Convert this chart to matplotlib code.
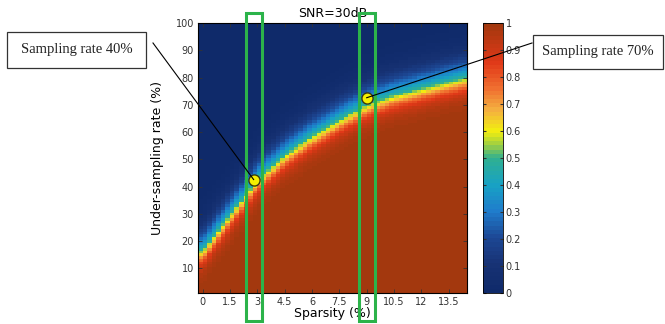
import numpy as np
import matplotlib.pyplot as plt
from matplotlib.colors import LinearSegmentedColormap
from matplotlib.patches import Rectangle
from matplotlib.lines import Line2D

# boundary of the phase transition (50% level)
sparsity_pts = [0, 1.5, 3, 4.5, 6, 7.5, 9, 10.5, 12, 13.5, 14.5]
boundary_rate = [16.5, 29.5, 42.5, 51.5, 58.5, 64.5, 70, 73.5, 76, 78.5, 80]
width_above = 4.5   # slow fade into blue
width_below = 2.8   # quicker rise into red

x_ticks = [0, 1.5, 3, 4.5, 6, 7.5, 9, 10.5, 12, 13.5]
y_ticks = [10, 20, 30, 40, 50, 60, 70, 80, 90, 100]
cb_ticks = [0, 0.1, 0.2, 0.3, 0.4, 0.5, 0.6, 0.7, 0.8, 0.9, 1]
cb_labels = ['0', '0.1', '0.2', '0.3', '0.4', '0.5', '0.6', '0.7', '0.8', '0.9', '1']

# highlighted columns and sample points
band_centers = [2.8, 9.03]
points_x = [2.8, 9.0]
points_y = [42.6, 72.6]
notes = ['Sampling rate 40%', 'Sampling rate 70%']

# colour stops of the colorbar in the picture
cmap_pos = [0.0, 0.1, 0.2, 0.3, 0.4, 0.5, 0.55, 0.6, 0.68, 0.76, 0.86, 1.0]
cmap_col = ['#0f2a6a', '#173274', '#1d4794', '#1f7ccc', '#18a2c4', '#30b090',
            '#a0d040', '#f2ee10', '#f4b040', '#f07030', '#e03818', '#a3380e']
cmap = LinearSegmentedColormap.from_list('ref', list(zip(cmap_pos, cmap_col)), N=64)

# grid of recovery probability
xs = np.arange(-0.125, 14.5, 0.25)
ys = np.arange(1, 101, 1.0)
bnd = np.interp(xs, sparsity_pts, boundary_rate)
d = bnd[None, :] - ys[:, None]
w = np.where(d < 0, width_above, width_below)
prob = 1.0 / (1.0 + np.exp(-d / w))

W, H = 665, 324
fig = plt.figure(figsize=(6.65, 3.24), dpi=100)

ax = fig.add_axes([198 / W, 1 - 293 / H, 269 / W, 270 / H])
im = ax.imshow(prob, origin='lower', aspect='auto', interpolation='nearest',
               cmap=cmap, vmin=0, vmax=1,
               extent=[-0.25, 14.5, 0.5, 100.5])
ax.set_xlim(-0.25, 14.5)
ax.set_ylim(1, 100)
ax.set_xticks(x_ticks)
ax.set_xticklabels([('%g' % t) for t in x_ticks])
ax.set_yticks(y_ticks)
ax.tick_params(direction='in', top=True, right=True, length=3, width=0.6,
               labelsize=7, pad=3, colors='#333333')
ax.set_title('SNR=30dB', fontsize=9, pad=4)
ax.set_xlabel('Sparsity (%)', fontsize=9, labelpad=0)
ax.set_ylabel('Under-sampling rate (%)', fontsize=9, labelpad=8)

for c in band_centers:
    ax.add_patch(Rectangle((c - 0.44, -9.4), 0.88, 113.1, fill=False,
                           edgecolor='#2cb34a', linewidth=2.2, clip_on=False,
                           zorder=5))

ax.plot(points_x, points_y, 'o', markersize=8, markerfacecolor='#f5f000',
        markeredgecolor='#3a3a10', markeredgewidth=1.0, zorder=6)

cax = fig.add_axes([483 / W, 1 - 293 / H, 20 / W, 270 / H])
cb = fig.colorbar(im, cax=cax, ticks=cb_ticks)
cb.set_ticklabels(cb_labels)
cb.outline.set_linewidth(0.6)
cax.tick_params(direction='in', left=True, right=True, length=2.5,
                labelsize=7, pad=2, colors='#333333')

# annotation boxes (pixel positions of the reference)
boxes = [(7, 32, 146, 68), (533, 35, 663, 69)]
for (x0, y0, x1, y1), txt in zip(boxes, notes):
    fig.add_artist(Rectangle((x0 / W, 1 - y1 / H), (x1 - x0) / W, (y1 - y0) / H,
                             transform=fig.transFigure, fill=True,
                             facecolor='white', edgecolor='#333333',
                             linewidth=0.9))
    fig.text((x0 + x1) / 2 / W, 1 - (y0 + y1) / 2 / H, txt,
             family='Liberation Serif', fontsize=10.5, ha='center', va='center',
             color='#222222')

ends = [(153, 43), (532, 43)]
inv = fig.transFigure.inverted()
for (ex, ey), px, py in zip(ends, points_x, points_y):
    fx, fy = inv.transform(ax.transData.transform((px, py)))
    fig.add_artist(Line2D([ex / W, fx], [1 - ey / H, fy],
                          transform=fig.transFigure, color='black',
                          linewidth=0.8, zorder=4))

fig.savefig('out.png', dpi=100)
